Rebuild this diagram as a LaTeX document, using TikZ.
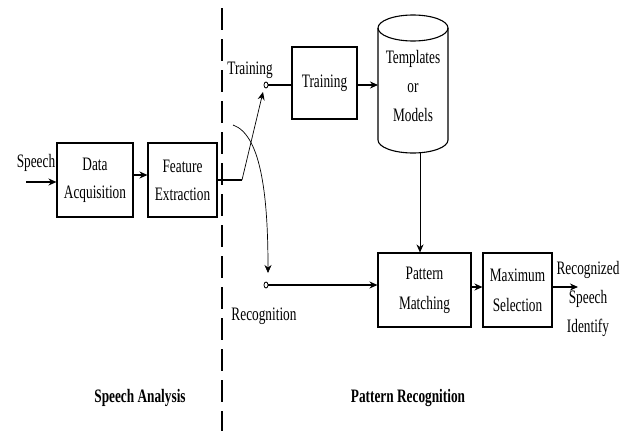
\documentclass[tikz,border=0pt]{standalone}
\usepackage{fontspec}
\setmainfont[FakeStretch=0.7]{Liberation Serif}
\usetikzlibrary{arrows.meta,shapes.geometric}
\begin{document}
\begin{tikzpicture}[x=1pt,y=-1pt,
  font=\fontsize{19}{28}\selectfont,
  blk/.style={draw,line width=1.1pt,align=center,inner sep=0pt},
  conn/.style={line width=1.1pt},
  arr/.style={line width=1.1pt,-{Stealth[length=8pt,width=7pt]}},
  thin arr/.style={line width=0.7pt,-{Stealth[length=8pt,width=7pt]}},
  sw/.style={draw,ellipse,line width=0.8pt,minimum width=4pt,minimum height=6pt,inner sep=0pt}]
\useasboundingbox (0,0) rectangle (631,431);
% dashed divider
\coordinate (dtop) at (222,8);
\coordinate (dbot) at (222,431);
\draw[line width=1.3pt,dash pattern=on 22pt off 9pt] (dtop) -- (dbot);
% blocks
\node[blk,minimum width=76pt,minimum height=74pt] (da) at (95,180) {Data\\Acquisition};
\node[blk,minimum width=69pt,minimum height=74pt] (fe) at (182.5,180) {Feature\\Extraction};
\node[blk,minimum width=65pt,minimum height=72pt] (tr) at (324.5,83) {Training};
\node[blk,minimum width=93pt,minimum height=74pt,font=\fontsize{19}{30}\selectfont] (pm) at (424.5,290) {Pattern\\Matching};
\node[blk,minimum width=69pt,minimum height=74pt,font=\fontsize{19}{30}\selectfont] (ms) at (517.5,290) {Maximum\\Selection};
% cylinder
\coordinate (cyl) at (413,84);
\draw[line width=1.1pt] (378,28) -- (378,140) arc[start angle=180,end angle=0,x radius=35,y radius=13] -- (448,28);
\draw[line width=1.1pt] (413,28) ellipse[x radius=35,y radius=13];
\node[align=center,inner sep=0pt,font=\fontsize{19}{29}\selectfont] (cyltext) at (413,86) {Templates\\or\\Models};
\coordinate (cylW) at (378,85);
\coordinate (cylS) at (420,153);
% switches
\node[sw] (swt) at (266,85) {};
\node[sw] (swr) at (266,285) {};
\node (trlab) at (250,70) {Training};
\node (reclab) at (264,316) {Recognition};
% speech input
\node (sp) at (36,163) {Speech};
\coordinate (spin) at (26,182);
\draw[arr] (spin) -- (spin-|da.west);
% connections
\draw[arr] (da.east|-0,175) -- (fe.west|-0,175);
\coordinate (fej) at (242,180);
\coordinate (swtin) at (263,92);
\draw[conn] (fe.east|-fej) -- (fej);
\draw[thin arr] (fej) -- (swtin);
\draw[conn] (swt.east) -- (tr.west|-swt.east);
\draw[arr] (tr.east|-cylW) -- (cylW);
\coordinate (cs) at (233,125);
\coordinate (ce) at (268,273);
\draw[thin arr] (cs) .. controls (262,135) and (268,200) .. (ce);
\draw[arr] (swr.east) -- (pm.west|-swr.east);
\draw[thin arr] (cylS) -- (cylS|-pm.north);
\draw[arr] (pm.east|-0,287) -- (ms.west|-0,287);
\coordinate (out) at (578,287);
\draw[arr] (ms.east|-out) -- (out);
\node[align=center,inner sep=0pt,font=\fontsize{19}{29}\selectfont] (rsi) at (588,299) {Recognized\\Speech\\Identify};
% section labels
\node[font=\fontsize{19}{28}\selectfont\bfseries] (sa) at (140,398) {Speech Analysis};
\node[font=\fontsize{19}{28}\selectfont\bfseries] (pr) at (408,398) {Pattern Recognition};
\end{tikzpicture}
\end{document}
